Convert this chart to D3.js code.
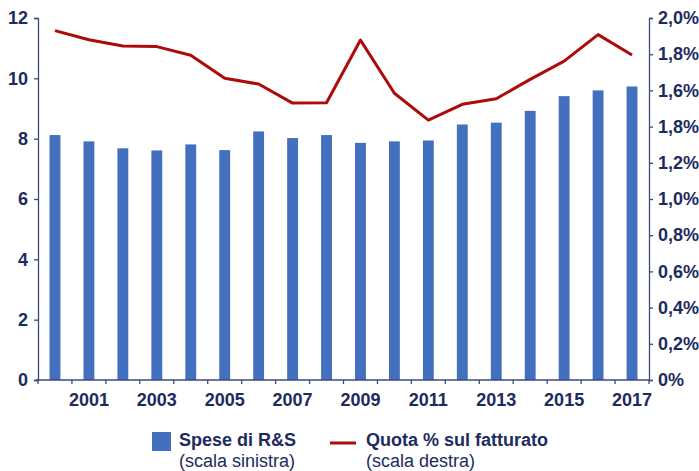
<!DOCTYPE html>
<html>
<head>
<meta charset="utf-8">
<script src="https://cdn.jsdelivr.net/npm/d3@7"></script>
<style>
  body { margin: 0; background: #fff; }
  svg { font-family: "Liberation Sans", Arial, sans-serif; }
</style>
</head>
<body>
<div id="chart"></div>
<script>
var years = [2000, 2001, 2002, 2003, 2004, 2005, 2006, 2007, 2008, 2009,
             2010, 2011, 2012, 2013, 2014, 2015, 2016, 2017];
// spese di R&S (scala sinistra)
var spese = [8.12, 7.91, 7.68, 7.61, 7.81, 7.62, 8.24, 8.02, 8.12, 7.86,
             7.91, 7.94, 8.47, 8.53, 8.92, 9.41, 9.60, 9.73];
// quota % sul fatturato (scala destra)
var quota = [1.93, 1.88, 1.845, 1.842, 1.794, 1.667, 1.635, 1.53, 1.532, 1.878,
             1.584, 1.436, 1.523, 1.554, 1.661, 1.762, 1.908, 1.796];
var leftTicks = [0, 2, 4, 6, 8, 10, 12];
var rightTicks = [0, 0.2, 0.4, 0.6, 0.8, 1.0, 1.2, 1.4, 1.6, 1.8, 2.0];
var rightLabels = ["0%", "0,2%", "0,4%", "0,6%", "0,8%", "1,0%", "1,2%", "1,8%", "1,6%", "1,8%", "2,0%"];

var navy = "#1d2b5e",
    axisCol = "#3a4a80",
    barCol = "#4270be",
    lineCol = "#ad0a0a";

var svg = d3.select("#chart").append("svg")
    .attr("width", 699)
    .attr("height", 471);

var plotL = 38, plotR = 649, plotT = 18, plotB = 380;

var x = d3.scaleBand()
    .domain(years)
    .range([plotL, plotR])
    .padding(0);

var y = d3.scaleLinear()
    .domain([0, 12])
    .range([plotB, plotT]);

var y2 = d3.scaleLinear()
    .domain([0, 2.0])
    .range([plotB, plotT]);

var barW = x.bandwidth() * 0.32;

// bars
svg.append("g")
  .selectAll("rect")
    .data(years)
  .enter().append("rect")
    .attr("x", function(d) { return x(d) + x.bandwidth() / 2 - barW / 2; })
    .attr("y", function(d, i) { return y(spese[i]); })
    .attr("width", barW)
    .attr("height", function(d, i) { return plotB - y(spese[i]); })
    .style("fill", barCol);

// line
var line = d3.line()
    .x(function(d, i) { return x(years[i]) + x.bandwidth() / 2; })
    .y(function(d) { return y2(d); });

svg.append("path")
    .datum(quota)
    .attr("d", line)
    .attr("fill", "none")
    .attr("stroke", lineCol)
    .attr("stroke-width", 3)
    .attr("stroke-linejoin", "round");

// left axis
var gl = svg.append("g")
    .attr("transform", "translate(" + plotL + ",0)")
    .call(d3.axisLeft(y).tickValues(leftTicks).tickSize(4).tickPadding(6).tickFormat(d3.format("d")));

// right axis
var gr = svg.append("g")
    .attr("transform", "translate(" + plotR + ",0)")
    .call(d3.axisRight(y2).tickValues(rightTicks).tickSize(4).tickPadding(5)
      .tickFormat(function(d, i) { return rightLabels[i]; }));

// bottom axis: ticks at band edges, labels on odd years
var edges = years.map(function(d) { return x(d); }).concat([plotR]);
var gb = svg.append("g");
gb.append("line")
    .attr("x1", plotL - 2).attr("x2", plotR)
    .attr("y1", plotB).attr("y2", plotB);
gb.selectAll(".tk")
    .data(edges)
  .enter().append("line")
    .attr("class", "tk")
    .attr("x1", function(d) { return d; }).attr("x2", function(d) { return d; })
    .attr("y1", plotB).attr("y2", plotB + 4);
gb.selectAll("text")
    .data(years.filter(function(d) { return d % 2 === 1; }))
  .enter().append("text")
    .attr("x", function(d) { return x(d) + x.bandwidth() / 2; })
    .attr("y", plotB + 26)
    .attr("text-anchor", "middle")
    .text(function(d) { return d; });

[gl, gr].forEach(function(g) {
  g.select(".domain").attr("stroke", axisCol).attr("stroke-width", 1.3);
  g.selectAll(".tick line").attr("stroke", axisCol).attr("stroke-width", 1.3);
});
gb.selectAll("line").attr("stroke", axisCol).attr("stroke-width", 1.3);

svg.selectAll(".tick text, g text")
    .attr("fill", navy)
    .style("font-size", "18px")
    .style("font-weight", "bold");

// legend
var leg = svg.append("g");
leg.append("rect")
    .attr("x", 152).attr("y", 432)
    .attr("width", 19).attr("height", 19)
    .style("fill", barCol);
leg.append("text")
    .attr("x", 179).attr("y", 446)
    .style("font-weight", "bold")
    .text("Spese di R&S");
leg.append("text")
    .attr("x", 179).attr("y", 467)
    .text("(scala sinistra)");

leg.append("line")
    .attr("x1", 330).attr("x2", 356)
    .attr("y1", 443).attr("y2", 443)
    .attr("stroke", lineCol)
    .attr("stroke-width", 3);
leg.append("text")
    .attr("x", 366).attr("y", 446)
    .style("font-weight", "bold")
    .text("Quota % sul fatturato");
leg.append("text")
    .attr("x", 366).attr("y", 467)
    .text("(scala destra)");

leg.selectAll("text")
    .attr("fill", navy)
    .style("font-size", "18px");
</script>
</body>
</html>
